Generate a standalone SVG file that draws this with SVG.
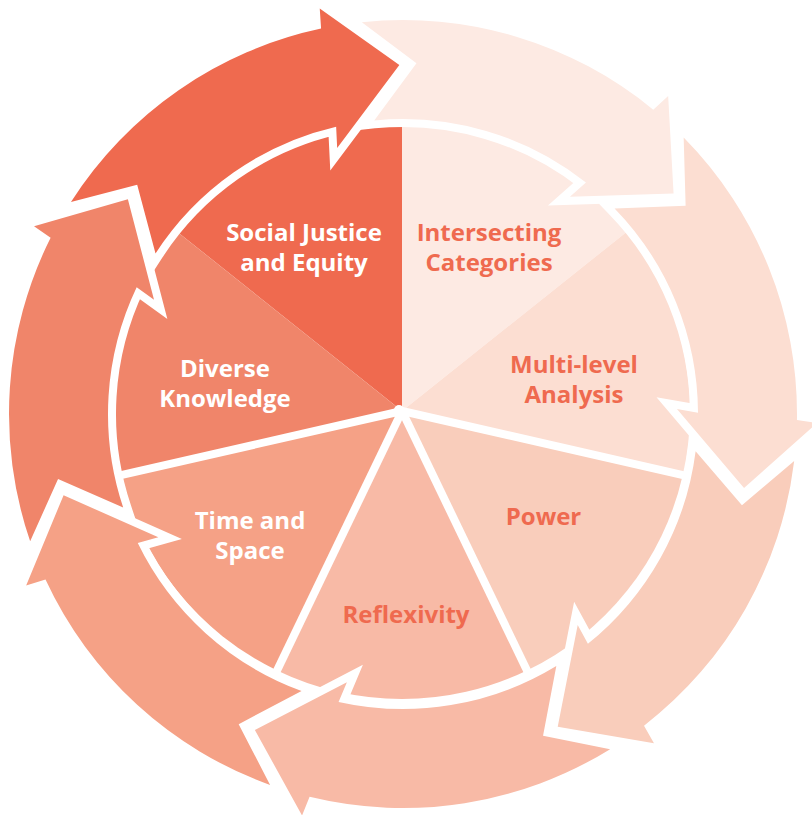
<svg xmlns="http://www.w3.org/2000/svg" xmlns:xlink="http://www.w3.org/1999/xlink" width="812" height="815" viewBox="0 0 812 815">
  <style>
    .label { font-family: "Open Sans", "Liberation Sans", sans-serif; font-weight: 700; font-size: 24px; text-anchor: middle; }
    .light { fill: #ffffff; }
    .dark { fill: #ef6a4f; }
    .divider { stroke: #ffffff; stroke-width: 8; fill: none; }
    .ring-arrow { stroke: #ffffff; stroke-width: 16; paint-order: stroke; stroke-linejoin: miter; stroke-miterlimit: 4; }
  </style>
  <defs>
    <!-- one curved arrow of the outer ring, tip pointing straight up; rotated about the ring centre (403,414) -->
    <path id="ring-arrow-shape" class="ring-arrow"
          d="M73.21,198.43 A394,394 0 0 1 325.12,27.77 L324,7.61 L403,65 L339.97,147.35 L339.15,125.99 A295,295 0 0 0 157.21,250.87 L139.6,182.01 Z"/>
  </defs>

  <rect width="812" height="815" fill="#ffffff"/>

  <!-- pie segments -->
  <g id="social-justice">
    <path d="M402,411 L176.83,231.43 A288,288 0 0 1 402,123 Z" fill="#ef6a4f"/>
  </g>
  <g id="intersecting-categories">
    <path d="M402,411 L402,123 A288,288 0 0 1 627.17,231.43 Z" fill="#fdeae3"/>
  </g>
  <g id="multi-level-analysis">
    <path d="M402,411 L627.17,231.43 A288,288 0 0 1 682.78,475.09 Z" fill="#fcded2"/>
  </g>
  <g id="power">
    <path d="M402,411 L682.78,475.09 A288,288 0 0 1 526.96,670.48 Z" fill="#f9cdbb"/>
  </g>
  <g id="reflexivity">
    <path d="M402,411 L526.96,670.48 A288,288 0 0 1 277.04,670.48 Z" fill="#f8baa6"/>
  </g>
  <g id="time-and-space">
    <path d="M402,411 L277.04,670.48 A288,288 0 0 1 121.22,475.09 Z" fill="#f5a186"/>
  </g>
  <g id="diverse-knowledge">
    <path d="M402,411 L121.22,475.09 A288,288 0 0 1 176.83,231.43 Z" fill="#f0856a"/>
  </g>

  <!-- white dividers in the lower half of the pie -->
  <g id="dividers">
    <line class="divider" x1="402" y1="411" x2="689.6" y2="476.6"/>
    <line class="divider" x1="402" y1="411" x2="530" y2="676.8"/>
    <line class="divider" x1="402" y1="411" x2="274" y2="676.8"/>
    <line class="divider" x1="402" y1="411" x2="114.4" y2="476.6"/>
    <circle cx="399" cy="410" r="5" fill="#ffffff"/>
  </g>

  <!-- outer ring of arrows -->
  <g id="connectors">
    <use xlink:href="#ring-arrow-shape" href="#ring-arrow-shape" fill="#ef6a4f" transform="rotate(-0.6 403 414)"/>
    <use xlink:href="#ring-arrow-shape" href="#ring-arrow-shape" fill="#fdeae3" transform="rotate(50.8286 403 414)"/>
    <use xlink:href="#ring-arrow-shape" href="#ring-arrow-shape" fill="#fcded2" transform="rotate(102.2571 403 414)"/>
    <use xlink:href="#ring-arrow-shape" href="#ring-arrow-shape" fill="#f9cdbb" transform="rotate(153.6857 403 414)"/>
    <use xlink:href="#ring-arrow-shape" href="#ring-arrow-shape" fill="#f8baa6" transform="rotate(205.1143 403 414)"/>
    <use xlink:href="#ring-arrow-shape" href="#ring-arrow-shape" fill="#f5a186" transform="rotate(256.5429 403 414)"/>
    <use xlink:href="#ring-arrow-shape" href="#ring-arrow-shape" fill="#f0856a" transform="rotate(307.9714 403 414)"/>
  </g>

  <!-- labels -->
  <g id="labels">
    <text class="label light" x="304" y="241">Social Justice</text>
    <text class="label light" x="304" y="271">and Equity</text>
    <text class="label dark" x="489" y="241">Intersecting</text>
    <text class="label dark" x="489" y="271">Categories</text>
    <text class="label dark" x="574" y="373">Multi-level</text>
    <text class="label dark" x="574" y="403">Analysis</text>
    <text class="label dark" x="543.5" y="525">Power</text>
    <text class="label dark" x="406" y="623">Reflexivity</text>
    <text class="label light" x="250" y="529">Time and</text>
    <text class="label light" x="250" y="559">Space</text>
    <text class="label light" x="225" y="377">Diverse</text>
    <text class="label light" x="225" y="407">Knowledge</text>
  </g>
</svg>
